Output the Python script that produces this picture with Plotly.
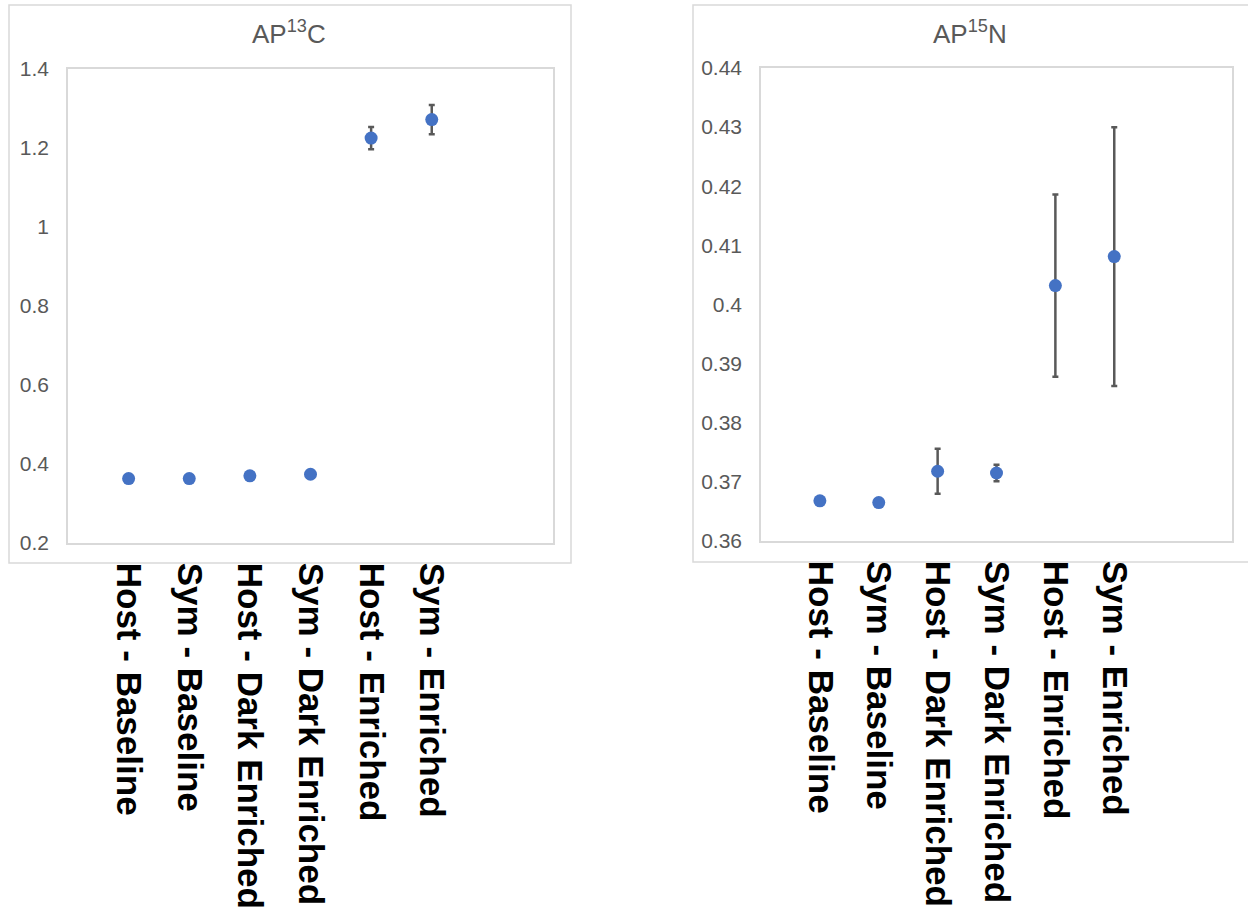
import plotly.graph_objects as go

categories = ["Host - Baseline", "Sym - Baseline", "Host - Dark Enriched",
              "Sym - Dark Enriched", "Host - Enriched", "Sym - Enriched"]
x_pos = [1, 2, 3, 4, 5, 6]

c13_values = [0.363, 0.363, 0.370, 0.374, 1.225, 1.272]
c13_errors = [0.002, 0.002, 0.002, 0.002, 0.028, 0.037]

n15_values = [0.3668, 0.3665, 0.3718, 0.3715, 0.4032, 0.4081]
n15_errors = [0.0001, 0.0001, 0.0038, 0.0014, 0.0154, 0.0219]

c13_ticks = [0.2, 0.4, 0.6, 0.8, 1.0, 1.2, 1.4]
c13_ticktext = ["0.2", "0.4", "0.6", "0.8", "1", "1.2", "1.4"]
n15_ticks = [0.36, 0.37, 0.38, 0.39, 0.40, 0.41, 0.42, 0.43, 0.44]
n15_ticktext = ["0.36", "0.37", "0.38", "0.39", "0.4", "0.41", "0.42", "0.43", "0.44"]

W, H = 1248, 908
BLUE = "#4472C4"
GREY = "#595959"
BORDER = "#D9D9D9"
FONT = "Liberation Sans, Arial, sans-serif"

fig = go.Figure()

fig.add_trace(go.Scatter(
    x=x_pos, y=c13_values, mode="markers",
    marker=dict(color=BLUE, size=13),
    error_y=dict(type="data", array=c13_errors, visible=True,
                 color=GREY, thickness=2.5, width=3),
    xaxis="x", yaxis="y", showlegend=False))

fig.add_trace(go.Scatter(
    x=x_pos, y=n15_values, mode="markers",
    marker=dict(color=BLUE, size=13),
    error_y=dict(type="data", array=n15_errors, visible=True,
                 color=GREY, thickness=2.5, width=3),
    xaxis="x2", yaxis="y2", showlegend=False))

def px_x(v):
    return v / W

def px_y(v):
    return 1 - v / H

xcommon = dict(range=[0, 8], tickvals=x_pos, ticktext=categories, tickangle=90,
               showgrid=False, zeroline=False, showline=True, mirror=True,
               linecolor=BORDER, linewidth=1.5, ticks="outside", ticklen=11,
               tickcolor="rgba(0,0,0,0)", automargin=False,
               tickfont=dict(family=FONT, size=35, color="black", weight="bold"))
ycommon = dict(showgrid=False, zeroline=False, showline=True, mirror=True,
               linecolor=BORDER, linewidth=1.5, ticks="outside", ticklen=13,
               tickcolor="rgba(0,0,0,0)", automargin=False,
               tickfont=dict(family=FONT, size=21, color=GREY))

fig.update_layout(
    width=W, height=H, autosize=False,
    margin=dict(l=0, r=0, t=0, b=0, autoexpand=False),
    paper_bgcolor="white", plot_bgcolor="white",
    xaxis=dict(domain=[px_x(68), px_x(553)], anchor="y", **xcommon),
    yaxis=dict(domain=[px_y(543), px_y(69)], anchor="x", range=[0.2, 1.4],
               tickvals=c13_ticks, ticktext=c13_ticktext, **ycommon),
    xaxis2=dict(domain=[px_x(761), px_x(1232)], anchor="y2", **xcommon),
    yaxis2=dict(domain=[px_y(541), px_y(68)], anchor="x2", range=[0.36, 0.44],
                tickvals=n15_ticks, ticktext=n15_ticktext, **ycommon),
    shapes=[
        dict(type="rect", xref="paper", yref="paper",
             x0=px_x(9), x1=px_x(571), y0=px_y(563), y1=px_y(5),
             line=dict(color=BORDER, width=1.5), layer="below"),
        dict(type="rect", xref="paper", yref="paper",
             x0=px_x(693), x1=px_x(1260), y0=px_y(562), y1=px_y(5),
             line=dict(color=BORDER, width=1.5), layer="below"),
    ],
    annotations=[
        dict(text="AP<sup>13</sup>C", xref="paper", yref="paper",
             x=px_x(289), y=px_y(32), xanchor="center", yanchor="middle",
             showarrow=False, font=dict(family=FONT, size=26, color=GREY)),
        dict(text="AP<sup>15</sup>N", xref="paper", yref="paper",
             x=px_x(970), y=px_y(32), xanchor="center", yanchor="middle",
             showarrow=False, font=dict(family=FONT, size=26, color=GREY)),
    ],
)

fig.write_html("out.html", config={"displayModeBar": False},
               post_script="document.body.style.margin='0px';")
